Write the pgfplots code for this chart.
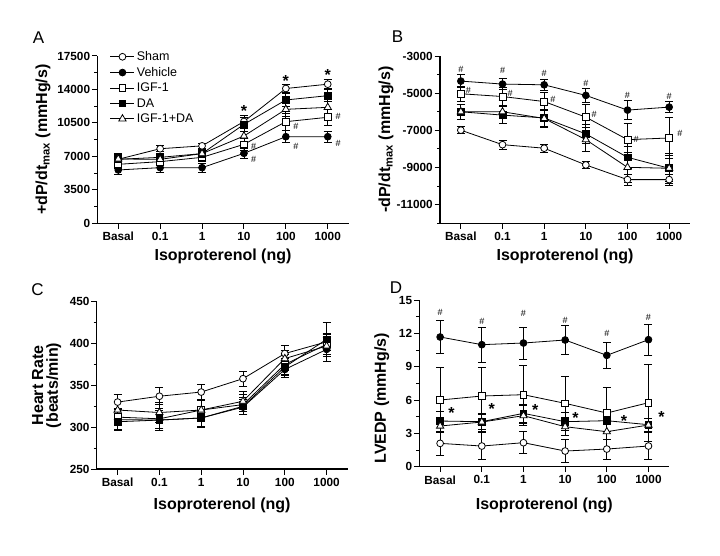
\documentclass[border=0pt]{standalone}
\usepackage{pgfplots}
\pgfplotsset{compat=1.18}
\usepackage{fontspec}
\setmainfont{Liberation Sans}

\pgfplotsset{
  panel/.style={
    scale only axis,
    axis lines=left,
    axis line style={-, line width=1.1pt},
    xmin=-0.5, xmax=5.5,
    xtick={0,...,5},
    xticklabels={Basal,0.1,1,10,100,1000},
    scaled y ticks=false,
    tick align=outside,
    major tick length=5.5pt,
    minor tick length=3pt,
    tick style={black, line width=1pt},
    ticklabel style={font=\fontsize{11.8}{13}\selectfont\bfseries},
    yticklabel style={inner sep=1.5pt},
    label style={font=\fontsize{16}{18}\selectfont\bfseries},
    xlabel={Isoproterenol (ng)},
    clip=false,
  },
  grp/.style={black, line width=0.8pt,
    /pgfplots/error bars/y dir=both,
    /pgfplots/error bars/y explicit,
    /pgfplots/error bars/error bar style={line width=0.8pt, black},
    /pgfplots/error bars/error mark options={rotate=90, mark size=4pt, line width=0.8pt, black}},
  sham/.style={grp, mark=*, mark size=3.4pt, mark options={fill=white, draw=black}},
  veh/.style={grp, mark=*, mark size=3.4pt, mark options={fill=black, draw=black}},
  igf/.style={grp, mark=square*, mark size=3.4pt, mark options={fill=white, draw=black}},
  da/.style={grp, mark=square*, mark size=3.4pt, mark options={fill=black, draw=black}},
  both/.style={grp, mark=triangle*, mark size=4.2pt, mark options={fill=white, draw=black}},
}
\newcommand{\st}{\fontsize{16}{16}\selectfont\bfseries}
\newcommand{\hs}{\fontsize{9}{9}\selectfont}

\begin{document}
\begin{tikzpicture}
\useasboundingbox (0pt,0pt) rectangle (720pt,555pt);

\node[font=\fontsize{17}{17}\selectfont] at (38.5pt,517.5pt) {A};
\node[font=\fontsize{17}{17}\selectfont] at (397.5pt,518.5pt) {B};
\node[font=\fontsize{17}{17}\selectfont] at (37.5pt,265pt) {C};
\node[font=\fontsize{17}{17}\selectfont] at (396pt,267.5pt) {D};

% ---------------- A
\begin{axis}[panel, at={(97.3pt,331.7pt)}, width=251.4pt, height=167.3pt,
  ymin=0, ymax=17500,
  ytick={0,3500,7000,10500,14000,17500},
  yticklabels={0,3500,7000,10500,14000,17500},
  minor ytick={1750,5250,8750,12250,15750},
  ylabel={+dP/dt\textsubscript{max} (mmHg/s)},
  ylabel style={at={(axis description cs:-0.216,0.5)}, anchor=center},
  xlabel style={at={(axis description cs:0.5,-0.2)}, anchor=center},
  legend style={draw=none, fill=none, at={(0.05,1.04)}, anchor=north west,
    font=\fontsize{12.5}{14}\selectfont, row sep=1.2pt, inner sep=0pt},
  legend cell align=left,
  legend image code/.code={\draw[mark repeat=2,mark phase=2,#1] plot coordinates {(0pt,0pt)(12pt,0pt)(24pt,0pt)};},
]
\addplot[sham] coordinates {(0,6700)+-(0,500) (1,7800)+-(0,300) (2,8100)+-(0,300) (3,10650)+-(0,650) (4,14100)+-(0,450) (5,14550)+-(0,450)};
\addplot[veh] coordinates {(0,5580)+-(0,450) (1,5820)+-(0,450) (2,5820)+-(0,450) (3,7320)+-(0,500) (4,9060)+-(0,650) (5,9060)+-(0,550)};
\addplot[igf] coordinates {(0,6170)+-(0,400) (1,6450)+-(0,400) (2,6900)+-(0,400) (3,8260)+-(0,600) (4,10630)+-(0,900) (5,11090)+-(0,800)};
\addplot[da] coordinates {(0,6690)+-(0,450) (1,6900)+-(0,400) (2,7290)+-(0,400) (3,10350)+-(0,700) (4,12900)+-(0,700) (5,13350)+-(0,650)};
\addplot[both] coordinates {(0,6730)+-(0,550) (1,6690)+-(0,500) (2,7290)+-(0,500) (3,9130)+-(0,800) (4,11920)+-(0,700) (5,12130)+-(0,600)};
\legend{Sham,Vehicle,IGF-1,DA,IGF-1+DA}
\node[font=\st] at (axis cs:3,11700) {*};
\node[font=\st] at (axis cs:4,14900) {*};
\node[font=\st] at (axis cs:5,15500) {*};
\node[font=\hs] at (axis cs:3.23,8086) {\#};
\node[font=\hs] at (axis cs:3.23,6695) {\#};
\node[font=\hs] at (axis cs:4.24,10105) {\#};
\node[font=\hs] at (axis cs:4.24,8086) {\#};
\node[font=\hs] at (axis cs:5.25,11224) {\#};
\node[font=\hs] at (axis cs:5.25,8368) {\#};
\end{axis}

% ---------------- B
\begin{axis}[panel, at={(440pt,331.7pt)}, width=250pt, height=167.3pt,
  ymin=-12000, ymax=-3000,
  ytick={-11000,-9000,-7000,-5000,-3000},
  yticklabels={-11000,-9000,-7000,-5000,-3000},
  minor ytick={-12000,-10000,-8000,-6000,-4000},
  ylabel={-dP/dt\textsubscript{max} (mmHg/s)},
  ylabel style={at={(axis description cs:-0.216,0.5)}, anchor=center},
  xlabel style={at={(axis description cs:0.5,-0.2)}, anchor=center},
]
\addplot[sham] coordinates {(0,-6990)+-(0,200) (1,-7770)+-(0,250) (2,-7960)+-(0,200) (3,-8860)+-(0,200) (4,-9650)+-(0,300) (5,-9650)+-(0,300)};
\addplot[veh] coordinates {(0,-4350)+-(0,350) (1,-4510)+-(0,300) (2,-4550)+-(0,300) (3,-5120)+-(0,400) (4,-5910)+-(0,500) (5,-5750)+-(0,300)};
\addplot[igf] coordinates {(0,-5030)+-(0,400) (1,-5180)+-(0,500) (2,-5450)+-(0,500) (3,-6290)+-(0,700) (4,-7500)+-(0,900) (5,-7410)+-(0,1100)};
\addplot[da] coordinates {(0,-6000)+-(0,400) (1,-6180)+-(0,450) (2,-6330)+-(0,450) (3,-7190)+-(0,500) (4,-8450)+-(0,600) (5,-9040)+-(0,700)};
\addplot[both] coordinates {(0,-6000)+-(0,400) (1,-6000)+-(0,600) (2,-6360)+-(0,500) (3,-7500)+-(0,650) (4,-8990)+-(0,800) (5,-9040)+-(0,800)};
\node[font=\hs] at (axis cs:0,-3715) {\#};
\node[font=\hs] at (axis cs:1,-3790) {\#};
\node[font=\hs] at (axis cs:2,-3930) {\#};
\node[font=\hs] at (axis cs:3,-4470) {\#};
\node[font=\hs] at (axis cs:4,-5100) {\#};
\node[font=\hs] at (axis cs:5,-5190) {\#};
\node[font=\hs] at (axis cs:0.18,-4867) {\#};
\node[font=\hs] at (axis cs:1.18,-5028) {\#};
\node[font=\hs] at (axis cs:2.21,-5313) {\#};
\node[font=\hs] at (axis cs:3.2,-6136) {\#};
\node[font=\hs] at (axis cs:4.21,-7481) {\#};
\node[font=\hs] at (axis cs:5.26,-7158) {\#};
\end{axis}

% ---------------- C
\begin{axis}[panel, at={(96.7pt,86pt)}, width=250.8pt, height=167.3pt,
  ymin=250, ymax=450,
  ytick={250,300,350,400,450},
  yticklabels={250,300,350,400,450},
  minor ytick={275,325,375,425},
  ylabel={\shortstack{Heart Rate\\(beats/min)}},
  ylabel style={at={(axis description cs:-0.2,0.5)}, anchor=center},
  xlabel style={at={(axis description cs:0.5,-0.215)}, anchor=center},
]
\addplot[sham] coordinates {(0,330)+-(0,9) (1,337)+-(0,10) (2,342)+-(0,9) (3,358)+-(0,9) (4,388)+-(0,10) (5,402)+-(0,10)};
\addplot[veh] coordinates {(0,309)+-(0,12) (1,308.5)+-(0,12) (2,311)+-(0,11) (3,324)+-(0,9) (4,369)+-(0,10) (5,393)+-(0,14)};
\addplot[igf] coordinates {(0,312)+-(0,10) (1,310)+-(0,12) (2,320.5)+-(0,12) (3,327)+-(0,12) (4,375)+-(0,12) (5,399)+-(0,12)};
\addplot[da] coordinates {(0,306.5)+-(0,10) (1,308.5)+-(0,12) (2,311)+-(0,10) (3,325)+-(0,10) (4,372)+-(0,10) (5,405)+-(0,20)};
\addplot[both] coordinates {(0,320.5)+-(0,10) (1,317.5)+-(0,12) (2,320.5)+-(0,12) (3,331)+-(0,12) (4,382)+-(0,10) (5,397)+-(0,10)};
\end{axis}

% ---------------- D
\begin{axis}[panel, at={(419.3pt,88.3pt)}, width=250pt, height=166.7pt,
  ymin=0, ymax=15,
  ytick={0,3,6,9,12,15},
  yticklabels={0,3,6,9,12,15},
  minor ytick={1.5,4.5,7.5,10.5,13.5},
  ylabel={LVEDP (mmHg/s)},
  ylabel style={at={(axis description cs:-0.15,0.41)}, anchor=center},
  xlabel style={at={(axis description cs:0.5,-0.23)}, anchor=center},
]
\addplot[sham] coordinates {(0,2.1)+-(0,1.1) (1,1.86)+-(0,1.2) (2,2.16)+-(0,1.0) (3,1.41)+-(0,1.05) (4,1.59)+-(0,0.9) (5,1.86)+-(0,1.2)};
\addplot[veh] coordinates {(0,11.67)+-(0,1.45) (1,10.98)+-(0,1.56) (2,11.13)+-(0,1.44) (3,11.4)+-(0,1.3) (4,10.02)+-(0,1.2) (5,11.43)+-(0,1.4)};
\addplot[igf] coordinates {(0,6.0)+-(0,2.9) (1,6.36)+-(0,2.6) (2,6.48)+-(0,2.6) (3,5.7)+-(0,2.46) (4,4.83)+-(0,2.34) (5,5.76)+-(0,3.45)};
\addplot[da] coordinates {(0,4.11)+-(0,0.9) (1,4.05)+-(0,0.7) (2,4.8)+-(0,0.8) (3,4.05)+-(0,0.8) (4,4.14)+-(0,1.0) (5,3.78)+-(0,0.6)};
\addplot[both] coordinates {(0,3.66)+-(0,0.6) (1,4.02)+-(0,0.8) (2,4.59)+-(0,0.9) (3,3.6)+-(0,0.8) (4,3.15)+-(0,0.7) (5,3.75)+-(0,0.6)};
\node[font=\st] at (axis cs:0.27,4.8) {*};
\node[font=\st] at (axis cs:1.24,5.2) {*};
\node[font=\st] at (axis cs:2.28,5.1) {*};
\node[font=\st] at (axis cs:3.25,4.4) {*};
\node[font=\st] at (axis cs:4.41,4.1) {*};
\node[font=\st] at (axis cs:5.31,4.45) {*};
\node[font=\hs] at (axis cs:0,13.9) {\#};
\node[font=\hs] at (axis cs:1,13.05) {\#};
\node[font=\hs] at (axis cs:2,13.8) {\#};
\node[font=\hs] at (axis cs:3,13.2) {\#};
\node[font=\hs] at (axis cs:4,12.0) {\#};
\node[font=\hs] at (axis cs:5,13.4) {\#};
\end{axis}
\end{tikzpicture}
\end{document}
